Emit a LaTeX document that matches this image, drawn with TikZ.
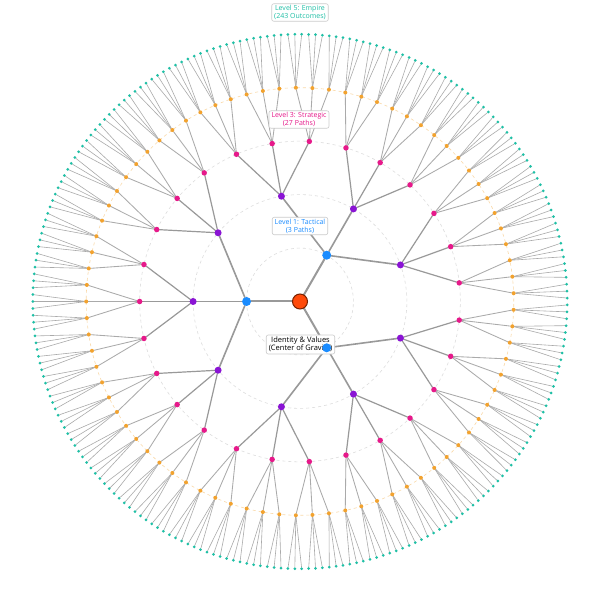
\documentclass[tikz,border=0pt]{standalone}
\usepackage{fontspec}
\setmainfont{Open Sans}
\pgfdeclarelayer{rings}
\pgfdeclarelayer{edges}
\pgfdeclarelayer{labels}
\pgfsetlayers{rings,edges,labels,main}
\definecolor{ccenter}{HTML}{FF4A0A}
\definecolor{ccenterb}{HTML}{7A2200}
\definecolor{cblue}{HTML}{1A8CFF}
\definecolor{cpurple}{HTML}{8A14D4}
\definecolor{cmagenta}{HTML}{E6198A}
\definecolor{corange}{HTML}{F2A22E}
\definecolor{cteal}{HTML}{1FBFA5}
\definecolor{cedge}{HTML}{999999}
\definecolor{cedgel}{HTML}{AAAAAA}
\definecolor{cring}{HTML}{DDDDDD}
\definecolor{cringo}{HTML}{FAD9A8}
\definecolor{cbox}{HTML}{CCCCCC}
\tikzset{
  dot/.style={circle, inner sep=0pt, outer sep=0pt, draw=none},
  dotA/.style={dot, fill=cblue, minimum size=9pt},
  dotB/.style={dot, fill=cpurple, minimum size=7pt},
  dotC/.style={dot, fill=cmagenta, minimum size=5.5pt},
  dotD/.style={dot, fill=corange, minimum size=4pt},
  dotE/.style={dot, fill=cteal, minimum size=3pt},
  centerdot/.style={circle, inner sep=0pt, minimum size=15pt, fill=ccenter, draw=ccenterb, line width=1pt},
  edge/.style={line cap=round},
  ring/.style={draw=cring, dashed, dash pattern=on 3pt off 3pt, line width=0.6pt},
  ringo/.style={draw=cringo, dashed, dash pattern=on 3pt off 3pt, line width=0.6pt},
  levlabel/.style={draw=cbox, fill=white, rounded corners=2pt, line width=0.6pt, align=center,
    inner xsep=2.5pt, inner ysep=1.5pt, font=\fontsize{7}{8}\selectfont}
}
\begin{document}
\begin{tikzpicture}[x=1pt,y=1pt]
\useasboundingbox (-300,-300.5) rectangle (300,301.5);
% center
\node[centerdot] (n-0-0) at (0,0) {};
% level nodes
\foreach \L/\n/\sty in {1/3/dotA,2/9/dotB,3/27/dotC,4/81/dotD,5/243/dotE} {
  \pgfmathsetmacro\rad{53.45*\L}
  \pgfmathsetmacro\stepang{180/\n}
  \pgfmathtruncatemacro\last{\n-1}
  \foreach \k in {0,...,\last} {
    \pgfmathsetmacro\ang{(2*\k+1)*\stepang}
    \node[\sty] (n-\L-\k) at (\ang:\rad) {};
  }
}
% rings
\begin{pgfonlayer}{rings}
  \fill[white] (-300,-300.5) rectangle (300,301.5);
  \foreach \r in {53.45,106.9,160.35} { \draw[ring] (0,0) circle (\r); }
  \draw[ringo] (0,0) circle (213.8);
\end{pgfonlayer}
% edges
\begin{pgfonlayer}{edges}
\foreach \L/\n/\w/\c in {1/3/2/cedge,2/9/1.6/cedge,3/27/1.2/cedge,4/81/0.85/cedgel,5/243/0.6/cedgel} {
  \pgfmathtruncatemacro\last{\n-1}
  \pgfmathtruncatemacro\P{\L-1}
  \foreach \k in {0,...,\last} {
    \pgfmathtruncatemacro\p{floor(\k/3)}
    \draw[edge, draw=\c, line width=\w pt] (n-\P-\p) -- (n-\L-\k);
  }
}
\end{pgfonlayer}
% labels
\begin{pgfonlayer}{labels}
  \node[levlabel, text=cteal] (lab5) at (0,289) {Level 5: Empire\\(243 Outcomes)};
  \node[levlabel, text=cmagenta] (lab3) at (-1,182) {Level 3: Strategic\\(27 Paths)};
  \node[levlabel, text=cblue] (lab1) at (0,75.5) {Level 1: Tactical\\(3 Paths)};
  \node[levlabel, text=black, font=\fontsize{7.5}{8.5}\selectfont] (labc) at (0.5,-43) {Identity \& Values\\(Center of Gravity)};
\end{pgfonlayer}
\end{tikzpicture}
\end{document}
